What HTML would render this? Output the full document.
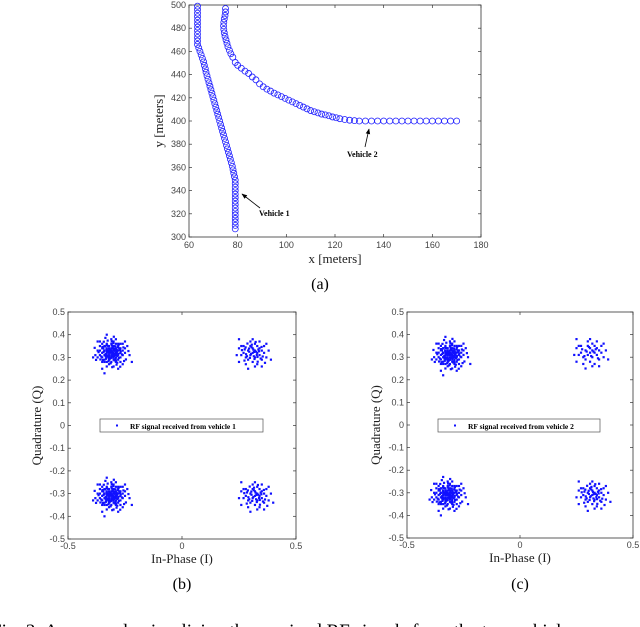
<!DOCTYPE html>
<html><head><meta charset="utf-8"><style>
html,body{margin:0;padding:0;background:#fff;width:640px;height:627px;overflow:hidden}
svg{display:block}
.tk{font-family:"Liberation Sans",sans-serif;font-size:9px;fill:#444}
.lb{font-family:"Liberation Serif",serif;font-size:13px;fill:#222}
.cap{font-family:"Liberation Serif",serif;font-size:16px;fill:#000}
.ann{font-family:"Liberation Serif",serif;font-size:8px;font-weight:bold;fill:#000}
</style></head><body>
<svg id="fig" width="640" height="627" viewBox="0 0 640 627" xmlns="http://www.w3.org/2000/svg">
<defs><marker id="ah" viewBox="0 0 10 10" refX="9" refY="5" markerWidth="7" markerHeight="7" orient="auto"><path d="M0,1 L10,5 L0,9 Z" fill="#000"/></marker></defs>
<g id="pa"></g>
<g id="pb"></g>
<g id="pc"></g>
<text class="cap" x="320" y="289" text-anchor="middle">(a)</text>
<text class="cap" x="182" y="589" text-anchor="middle">(b)</text>
<text class="cap" x="520" y="589" text-anchor="middle">(c)</text>
<text class="cap" x="-9" y="637" style="font-size:19px">Fig. 3: An example visualizing the received RF signals from the two vehicles</text>
</svg>
<script>
// Trajectory data
const v1x=[63.5,63.5,63.5,63.5,63.5,63.5,63.5,63.5,63.5,63.5,63.5,63.5,64,64.5,65,65.5,66,66.3,66.7,67,67.4,67.8,68.2,68.6,69,69.4,69.8,70.2,70.6,71,71.4,71.8,72.2,72.6,73,73.4,73.8,74.2,74.6,75,75.4,75.8,76.2,76.6,77,77.4,77.8,78.1,78.4,78.7,79,79,79,79,79,79,79,79,79,79,79,79,79,79,79];
const v1y=[499,496,493,490,487,484,481,478,475,472,469,466,463,460,457,454,451,448,445,442,439,436,433,430,427,424,421,418,415,412,409,406,403,400,397,394,391,388,385,382,379,376,373,370,367,364,361,358,355,352,349,346,343,340,337,334,331,328,325,322,319,316,313,310,307];
const v2x=[75,75,74.8,74.5,74.3,74.2,74.3,74.5,74.8,75.2,75.6,76,76.6,77.2,78,79,80,81.5,83,84.5,86,87.5,89,90.5,92,93.5,95,96.5,98,99.5,101,102.5,104,105.5,107,108.5,110,111.5,113,114.5,116,117.5,119,120.5,122,124,126,128,130,132.5,135,137.5,140,142.5,145,147.5,150,152.5,155,157.5,160,162.5,165,167.5,170];
const v2y=[497,494,491,488,485,482,479,476,473,470,467,464,461,458,455,450.5,448,445.5,443,441,438,435.5,432,429.5,427.5,425.8,424,422.5,421,419.5,418,416.5,415,413.5,412,410.5,409,408,407,406,405.3,404.5,403.5,402.8,402,401.3,400.7,400.3,400,400,400,400,400,400,400,400,400,400,400,400,400,400,400,400,400];
const axTicksX=[60,80,100,120,140,160,180];
const axTicksY=[300,320,340,360,380,400,420,440,460,480,500];
// Constellation data: cluster centres and per-cluster offsets (x0.01)
const iqTicks=[-0.5,-0.4,-0.3,-0.2,-0.1,0,0.1,0.2,0.3,0.4,0.5];
const iqXTicks=[-0.5,0,0.5];
const centersB=[[-0.31,0.32],[0.31,0.32],[-0.31,-0.31],[0.32,-0.31]];
const centersC=[[-0.31,0.31],[0.31,0.32],[-0.32,-0.31],[0.32,-0.31]];
const offBig=[[0,0],[1,1],[-1,1],[1,-1],[-1,-1],[2,0],[-2,0],[0,2],[0,-2],[2,2],[-2,2],[2,-2],[-2,-2],[3,1],[-3,1],[1,3],[1,-3],[-3,-1],[3,-1],[-1,3],[-1,-3],[0,1],[1,0],[-1,0],[0,-1],[1,2],[2,1],[-1,2],[-2,1],[2,-1],[1,-2],[-2,-1],[-1,-2],[3,3],[-3,3],[3,-3],[-3,-3],[4,0],[-4,0],[0,4],[0,-4],[4,2],[-4,2],[2,4],[-2,4],[4,-2],[-4,-2],[2,-4],[-2,-4],[5,1],[-5,1],[1,5],[-1,-5],[5,-1],[-5,-1],[3,4],[-3,-4],[4,4],[-4,4],[4,-4],[-4,-4],[6,0],[-6,1],[0,6],[1,-6],[6,2],[-6,-2],[2,6],[-2,-6],[7,3],[-7,-1],[3,-7],[-5,5],[5,-5],[8,-1],[-8,-2],[-2,8],[-4,-7],[5,4],[-5,3],[0.5,0.5],[-0.5,1.5],[1.5,-0.5],[-1.5,-1.5],[2.5,0.5],[-2.5,-0.5],[0.5,2.5],[-0.5,-2.5],[3.5,2],[-3.5,2],[2,-3.5],[-2,3.5],[9,-4],[-3,-9],[6,5],[-6,5]];
const offBig2=[[0.7,-0.3],[-0.4,0.8],[1.3,1.7],[-1.8,0.6],[2.7,-1.4],[-2.3,-2.6],[0.2,3.3],[-3.4,0.4],[3.8,1.3],[-1.2,-3.7],[1.9,-2.8],[-2.8,2.9],[4.6,-0.7],[-4.4,-1.6],[0.9,4.3],[-0.3,-4.6],[3.2,3.6],[-3.7,-3.2],[5.3,2.4],[-5.6,0.3],[2.3,-5.2],[-1.6,5.4],[6.4,-2.9],[-6.7,-3.1],[0.4,-6.3],[-2.6,6.6],[7.5,0.8],[-7.3,2.2],[3.9,-6.1],[1.1,7.1],[-1.1,0.3],[0.3,-1.3],[1.6,0.9],[-0.8,-1.7],[2.2,-0.2],[-2.1,1.8],[0.6,2.1],[-0.1,-2.2],[2.9,2.4],[-2.7,-1.1],[1.4,-3.3],[-1.7,3.1],[3.3,-2.2],[-3.9,2.6],[4.1,0.6],[-4.8,-2.9],[0.2,5.1],[2.6,-4.3],[-3.3,4.9],[5.6,-3.6],[-0.6,0.1],[0.1,0.6],[1.2,-1.4],[-1.3,1.1],[2.4,1.2],[-2.4,-1.6],[1.8,2.9],[-0.9,-2.9],[3.1,-0.4],[-3.1,0.9]];
const offSmall=[[0,0],[1,1],[-1,-1],[2,0],[-2,1],[0,2],[1,-2],[-1,3],[3,-1],[-3,-2],[2,3],[3,2],[-2,-3],[4,1],[-4,0],[0,-4],[1,4],[-4,3],[4,-3],[5,0],[-5,-1],[2,-5],[-1,5],[5,3],[-5,3],[3,5],[-3,-5],[6,-2],[-6,2],[1,-6],[0,6],[7,1],[-7,-1],[4,-6],[-6,-4],[1.5,0.5],[-1.5,0.5],[0.5,-1.5],[2.5,1.5],[-2.5,-1.5],[3.5,-2.5],[-0.5,2.5],[-3.5,1.5],[6,4],[-2,-7],[8,-3],[-6,6]];
const offSmall2=[[0.6,0.4],[-0.7,-0.5],[1.8,-0.9],[-1.6,1.9],[2.8,0.7],[-2.9,-0.6],[0.8,-2.7],[-0.4,3.6],[3.9,2.6],[-3.6,-3.4],[1.3,4.8],[4.4,-1.6],[-4.7,1.2],[2.2,-3.9],[-2.3,4.1],[0.3,1.4],[-1.2,-2.2],[2.1,-1.8],[-3.1,2.4],[5.4,-4.4]];
const offsB=[offBig.concat(offBig2),offSmall.concat(offSmall2),offBig.concat(offBig2),offSmall.concat(offSmall2)];
const offsC=[offBig.concat(offBig2),offSmall,offBig.concat(offBig2),offSmall.concat(offSmall2)];

const NS='http://www.w3.org/2000/svg';
function mk(p,t,a){const e=document.createElementNS(NS,t);for(const k in a)e.setAttribute(k,a[k]);p.appendChild(e);return e;}

// ---------- Plot (a) ----------
(function(){
const g=document.getElementById('pa');
const L=189,R=481,T=5,B=237;
const sx=v=>L+(v-60)/(180-60)*(R-L);
const sy=v=>B-(v-300)/(500-300)*(B-T);
const fr=mk(g,'rect',{x:L,y:T,width:R-L,height:B-T,fill:'#fff',stroke:'#333','stroke-width':0.8});


axTicksX.forEach(v=>{const x=sx(v);
mk(g,'line',{x1:x,x2:x,y1:B,y2:B-3,stroke:'#333','stroke-width':0.7});
mk(g,'line',{x1:x,x2:x,y1:T,y2:T+3,stroke:'#333','stroke-width':0.7});
const t=mk(g,'text',{x:x,y:B+11,'text-anchor':'middle',class:'tk'});t.textContent=v;

});
axTicksY.forEach(v=>{const y=sy(v);
mk(g,'line',{x1:L,x2:L+3,y1:y,y2:y,stroke:'#333','stroke-width':0.7});
mk(g,'line',{x1:R,x2:R-3,y1:y,y2:y,stroke:'#333','stroke-width':0.7});
const t=mk(g,'text',{x:L-3,y:y+3,'text-anchor':'end',class:'tk'});t.textContent=v;

});
const xl=mk(g,'text',{x:(L+R)/2,y:B+26,'text-anchor':'middle',class:'lb'});xl.textContent='x [meters]';


const yl=mk(g,'text',{x:0,y:0,'text-anchor':'middle',class:'lb',transform:`translate(163,${(T+B)/2}) rotate(-90)`});yl.textContent='y [meters]';


[[v1x,v1y,'vehicle-1-trajectory'],[v2x,v2y,'vehicle-2-trajectory']].forEach(([xs,ys,n])=>{
const s=mk(g,'g',{});


xs.forEach((x,i)=>{const c=mk(s,'circle',{cx:sx(x),cy:sy(ys[i]),r:3,fill:'none',stroke:'#2020ff','stroke-width':0.8});

});
});
mk(g,'line',{x1:260,y1:208,x2:242,y2:194,stroke:'#000','stroke-width':0.8,'marker-end':'url(#ah)'});
mk(g,'line',{x1:365,y1:147,x2:369,y2:129,stroke:'#000','stroke-width':0.8,'marker-end':'url(#ah)'});
const a1=mk(g,'text',{x:259,y:216,class:'ann'});a1.textContent='Vehicle 1';


const a2=mk(g,'text',{x:347,y:157,class:'ann'});a2.textContent='Vehicle 2';


})();

// ---------- Constellation plots ----------
function iq(id,L,R,T,B,centers,offs,legendText,lgX,lgW){
const g=document.getElementById(id);
const sx=v=>L+(v+0.5)*(R-L);
const sy=v=>B-(v+0.5)*(B-T);
const fr=mk(g,'rect',{x:L,y:T,width:R-L,height:B-T,fill:'#fff',stroke:'#333','stroke-width':0.8});


iqXTicks.forEach(v=>{const x=sx(v);
mk(g,'line',{x1:x,x2:x,y1:B,y2:B-3,stroke:'#333','stroke-width':0.7});
mk(g,'line',{x1:x,x2:x,y1:T,y2:T+3,stroke:'#333','stroke-width':0.7});
const t=mk(g,'text',{x:x,y:B+10,'text-anchor':'middle',class:'tk'});t.textContent=v;

});
iqTicks.forEach(v=>{const y=sy(v);
mk(g,'line',{x1:L,x2:L+3,y1:y,y2:y,stroke:'#333','stroke-width':0.7});
mk(g,'line',{x1:R,x2:R-3,y1:y,y2:y,stroke:'#333','stroke-width':0.7});
const t=mk(g,'text',{x:L-3,y:y+3,'text-anchor':'end',class:'tk'});t.textContent=Math.round(v*10)/10;

});
const xl=mk(g,'text',{x:(L+R)/2,y:B+24,'text-anchor':'middle',class:'lb'});xl.textContent='In-Phase (I)';


const yl=mk(g,'text',{x:0,y:0,'text-anchor':'middle',class:'lb',transform:`translate(${L-27},${(T+B)/2}) rotate(-90)`});yl.textContent='Quadrature (Q)';


const pts=mk(g,'g',{fill:'#1010ff'});


centers.forEach((c,k)=>{offs[k].forEach(o=>{
const r=mk(pts,'rect',{x:sx(c[0]+o[0]*0.01)-1.1,y:sy(c[1]+o[1]*0.01)-1.1,width:2.2,height:2.2});

});});
const lg=mk(g,'g',{});


mk(lg,'rect',{x:lgX,y:419,width:lgW,height:13,fill:'#fff',stroke:'#555','stroke-width':0.7});
mk(lg,'rect',{x:lgX+16,y:424.5,width:2,height:2,fill:'#1010ff'});
const lt=mk(lg,'text',{x:lgX+30,y:429,class:'ann',style:'font-size:7.5px'});lt.textContent=legendText;


}
iq('pb',68,296,312,539,centersB,offsB,'RF signal received from vehicle 1',100,163);
iq('pc',407,633,312,538,centersC,offsC,'RF signal received from vehicle 2',438,162);
</script>
</body></html>
